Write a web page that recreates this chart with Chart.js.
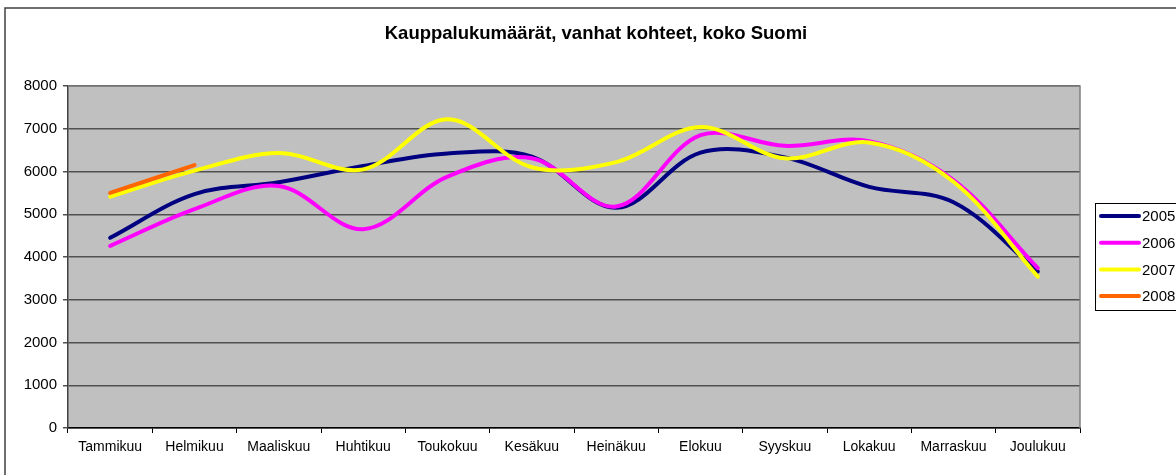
<!DOCTYPE html>
<html>
<head>
<meta charset="utf-8">
<script src="https://cdn.jsdelivr.net/npm/chart.js@4/dist/chart.umd.min.js"></script>
<style>
  html, body { margin: 0; padding: 0; background: #fff; }
  #wrap { width: 1176px; height: 475px; position: relative; }
</style>
</head>
<body>
<div id="wrap"><canvas id="chart" width="1176" height="475"></canvas></div>
<script>
const months = ['Tammikuu', 'Helmikuu', 'Maaliskuu', 'Huhtikuu', 'Toukokuu', 'Kesäkuu',
    'Heinäkuu', 'Elokuu', 'Syyskuu', 'Lokakuu', 'Marraskuu', 'Joulukuu'];
const sales2005 = [4450, 5470, 5750, 6130, 6420, 6350, 5150, 6440, 6330, 5640, 5280, 3660];
const sales2006 = [4260, 5120, 5660, 4650, 5880, 6310, 5180, 6850, 6600, 6710, 5800, 3740];
const sales2007 = [5410, 6020, 6430, 6050, 7220, 6100, 6220, 7040, 6310, 6680, 5760, 3540];
const sales2008 = [5500, 6150];
const years = ['2005', '2006', '2007', '2008'];
const colors = ['#000080', '#FF00FF', '#FFFF00', '#FF6600'];
const yTicks = [0, 1000, 2000, 3000, 4000, 5000, 6000, 7000, 8000];
const chartTitle = 'Kauppalukumäärät, vanhat kohteet, koko Suomi';

const font = 'Liberation Sans, Arial, sans-serif';

// plot background, outer frame, title, plot border and the boxed legend
const excelLook = {
    id: 'excelLook',
    beforeDraw(chart) {
        const ctx = chart.ctx;
        const a = chart.chartArea;
        ctx.save();
        ctx.fillStyle = '#fff';
        ctx.fillRect(0, 0, chart.width, chart.height);
        ctx.strokeStyle = '#404040';
        ctx.lineWidth = 1.5;
        ctx.beginPath();
        ctx.moveTo(5, chart.height + 2);
        ctx.lineTo(5, 8);
        ctx.lineTo(chart.width + 2, 8);
        ctx.stroke();
        ctx.fillStyle = '#C0C0C0';
        ctx.fillRect(a.left, a.top, a.right - a.left, a.bottom - a.top);

        ctx.fillStyle = '#000';
        ctx.font = 'bold 18.5px ' + font;
        ctx.textAlign = 'center';
        ctx.textBaseline = 'middle';
        ctx.fillText(chartTitle, 596, 34);
        ctx.restore();
    },
    afterDraw(chart) {
        const ctx = chart.ctx;
        const a = chart.chartArea;
        ctx.save();
        ctx.strokeStyle = '#808080';
        ctx.lineWidth = 1.5;
        ctx.beginPath();
        ctx.moveTo(a.left, a.top);
        ctx.lineTo(a.right, a.top);
        ctx.lineTo(a.right, a.bottom);
        ctx.stroke();

        // legend
        const lx = 1095, ly = 203, lh = 107;
        ctx.fillStyle = '#fff';
        ctx.fillRect(lx, ly, 100, lh);
        ctx.strokeStyle = '#000';
        ctx.lineWidth = 1;
        ctx.strokeRect(lx + 0.5, ly + 0.5, 100, lh);
        ctx.font = '15px ' + font;
        ctx.textBaseline = 'middle';
        chart.data.datasets.forEach((ds, i) => {
            const y = ly + 13 + i * 26.7;
            ctx.strokeStyle = ds.borderColor;
            ctx.lineWidth = 4;
            ctx.lineCap = 'round';
            ctx.beginPath();
            ctx.moveTo(lx + 6, y);
            ctx.lineTo(lx + 44, y);
            ctx.stroke();
            ctx.fillStyle = '#000';
            ctx.fillText(ds.label, lx + 47, y + 1);
        });
        ctx.restore();
    }
};

const seriesValues = [sales2005, sales2006, sales2007, sales2008];
const datasets = years.map((year, i) => ({
    label: year,
    data: seriesValues[i],
    borderColor: colors[i],
    backgroundColor: colors[i],
    borderWidth: 4,
    borderCapStyle: 'round',
    borderJoinStyle: 'round',
    pointRadius: 0,
    pointHoverRadius: 0,
    tension: 0.35,
    fill: false,
    order: years.length - i
}));

new Chart(document.getElementById('chart'), {
    type: 'line',
    data: { labels: months, datasets: datasets },
    options: {
        responsive: false,
        animation: false,
        devicePixelRatio: 1,
        layout: { padding: { left: 16, right: 96, top: 86, bottom: 0 } },
        plugins: {
            legend: { display: false },
            tooltip: { enabled: false },
            title: { display: false }
        },
        scales: {
            x: {
                offset: true,
                grid: {
                    offset: true,
                    drawOnChartArea: false,
                    drawTicks: true,
                    tickLength: 5,
                    color: '#000'
                },
                border: { color: '#000', width: 1.5 },
                ticks: {
                    color: '#000',
                    font: { family: font, size: 14 },
                    maxRotation: 0,
                    autoSkip: false,
                    padding: 6
                },
                afterFit(scale) { scale.height = 47; }
            },
            y: {
                min: 0,
                max: 8000,
                afterBuildTicks(scale) { scale.ticks = yTicks.map(v => ({ value: v })); },
                grid: {
                    color: '#505050',
                    lineWidth: 1.5,
                    drawTicks: true,
                    tickLength: 5
                },
                border: { color: '#404040', width: 1.5 },
                ticks: {
                    color: '#000',
                    font: { family: font, size: 15 },
                    padding: 6,
                    callback: v => String(v)
                },
                afterFit(scale) { scale.width = 52; }
            }
        }
    },
    plugins: [excelLook]
});
</script>
</body>
</html>
